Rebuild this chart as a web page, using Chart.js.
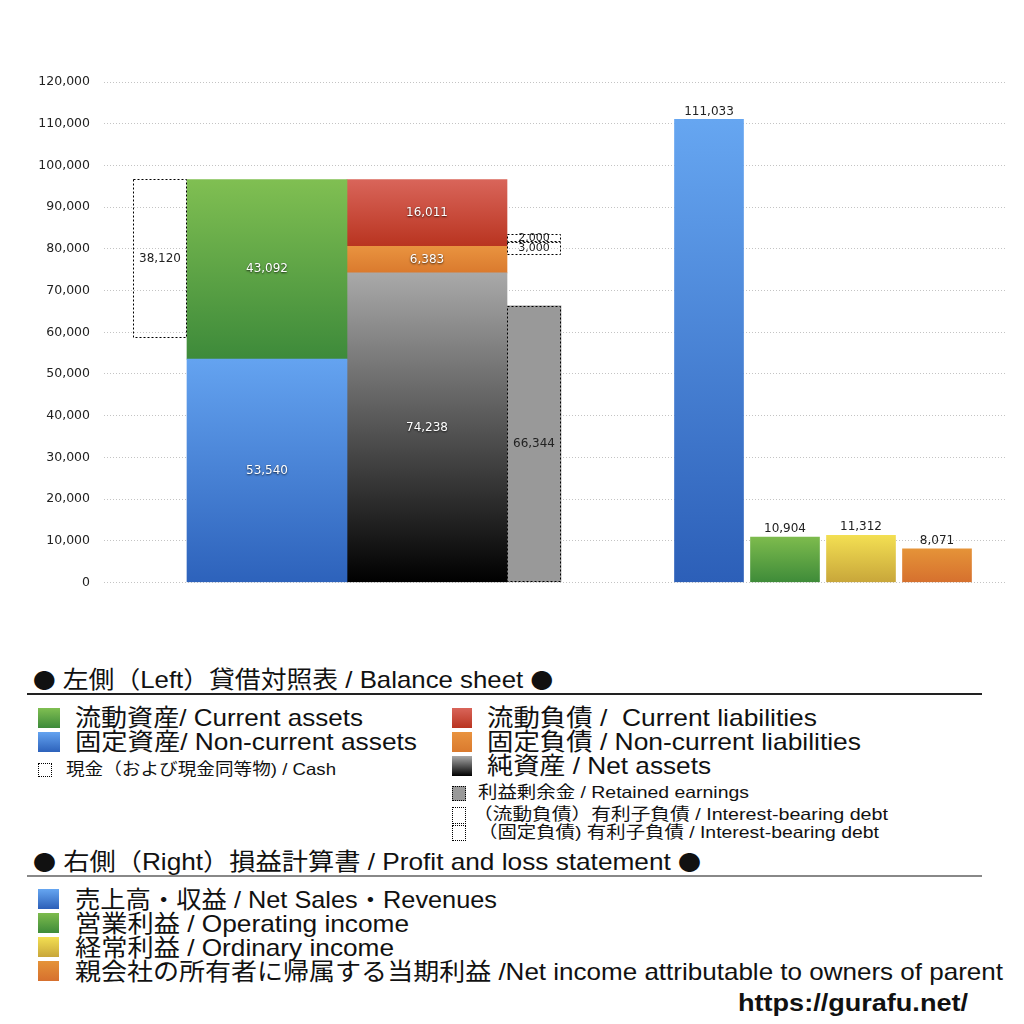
<!DOCTYPE html>
<html lang="ja">
<head>
<meta charset="utf-8">
<script src="https://cdn.jsdelivr.net/npm/chart.js@4.4.1/dist/chart.umd.min.js"></script>
<style>
  html, body { margin: 0; padding: 0; background: #fff; }
  body { width: 1024px; height: 1024px; position: relative; overflow: hidden;
         font-family: "Liberation Sans", "Noto Sans CJK JP", sans-serif; color: #111; }
  #wrap { position: absolute; left: 0; top: 0; width: 1024px; height: 604px; }
  .t { position: absolute; white-space: nowrap; line-height: 1; transform-origin: left center; }
  .big { font-size: 24px; }
  .small { font-size: 16.5px; }
  .bul { font-family: "Noto Sans CJK JP", sans-serif; font-size: 21px; }
  .sq { position: absolute; }
  .dot { position: absolute; box-sizing: border-box; border: 1px dotted #000; }
  .rule { position: absolute; left: 27px; width: 955px; }
</style>
</head>
<body>
<div id="wrap"><canvas id="chart"></canvas></div>

<!-- legend: balance sheet -->
<div class="t big" data-w="520" style="left:33px; top:668px;"><span class="bul">●</span> 左側（Left）貸借対照表 / Balance sheet <span class="bul">●</span></div>
<div class="rule" style="top:693px; height:2px; background:#222;"></div>

<div class="sq" style="left:38px; top:708px; width:22px; height:20px; background:linear-gradient(#80bf52,#3d8a3a);"></div>
<div class="t big" data-w="288" style="left:75px; top:706px;">流動資産/ Current assets</div>
<div class="sq" style="left:38px; top:732px; width:22px; height:20px; background:linear-gradient(#64a3f0,#2d62bb);"></div>
<div class="t big" data-w="342" style="left:75px; top:730px;">固定資産/ Non-current assets</div>
<div class="dot" style="left:38px; top:763px; width:14px; height:14px;"></div>
<div class="t small" data-w="270" style="left:66px; top:761px;">現金（および現金同等物) / Cash</div>

<div class="sq" style="left:452px; top:708px; width:20px; height:20px; background:linear-gradient(#d9655a,#b93420);"></div>
<div class="t big" data-w="330" style="left:487px; top:706px;">流動負債 /&nbsp; Current liabilities</div>
<div class="sq" style="left:452px; top:732px; width:20px; height:20px; background:linear-gradient(#e9933f,#da7a2e);"></div>
<div class="t big" data-w="374" style="left:487px; top:730px;">固定負債 / Non-current liabilities</div>
<div class="sq" style="left:452px; top:756px; width:20px; height:20px; background:linear-gradient(#a9a9a9,#000);"></div>
<div class="t big" data-w="224" style="left:487px; top:754px;">純資産 / Net assets</div>
<div class="dot" style="left:452px; top:786px; width:14px; height:15px; background:#999;"></div>
<div class="t small" data-w="271" style="left:478px; top:784px;">利益剰余金 / Retained earnings</div>
<div class="dot" style="left:452px; top:807px; width:14px; height:17px;"></div>
<div class="t small" data-w="415" style="left:473px; top:806px;">（流動負債）有利子負債 / Interest-bearing debt</div>
<div class="dot" style="left:452px; top:825px; width:14px; height:16px;"></div>
<div class="t small" data-w="401" style="left:478px; top:824px;">（固定負債) 有利子負債 / Interest-bearing debt</div>

<!-- legend: profit and loss -->
<div class="t big" data-w="668" style="left:33px; top:850px;"><span class="bul">●</span> 右側（Right）損益計算書 / Profit and loss statement <span class="bul">●</span></div>
<div class="rule" style="top:875px; height:2px; background:#888;"></div>

<div class="sq" style="left:38px; top:889px; width:21px; height:20px; background:linear-gradient(#66a6f1,#2c5fb8);"></div>
<div class="t big" data-w="422" style="left:75px; top:888px;">売上高・収益 / Net Sales・Revenues</div>
<div class="sq" style="left:38px; top:913px; width:21px; height:20px; background:linear-gradient(#7dbb4d,#3e8b39);"></div>
<div class="t big" data-w="334" style="left:75px; top:912px;">営業利益 / Operating income</div>
<div class="sq" style="left:38px; top:937px; width:21px; height:20px; background:linear-gradient(#f3df52,#c8a63a);"></div>
<div class="t big" data-w="319" style="left:75px; top:936px;">経常利益 / Ordinary income</div>
<div class="sq" style="left:38px; top:961px; width:21px; height:20px; background:linear-gradient(#e59338,#d6702e);"></div>
<div class="t big" data-w="928" style="left:75px; top:960px;">親会社の所有者に帰属する当期利益 /Net income attributable to owners of parent</div>

<div class="t" data-w="230" style="left:738px; top:991px; font-size:24px; font-weight:bold;">https://gurafu.net/</div>

<script>
// ---- values ----
const assetValues = [53540, 43092];          // 固定資産, 流動資産
const cashValue = 38120;                     // 現金
const equityValues = [74238, 6383, 16011];   // 純資産, 固定負債, 流動負債
const retainedEarnings = 66344;              // 利益剰余金
const debtValues = [3000, 2000];             // (固定負債) 有利子負債, (流動負債) 有利子負債
const plValues = [111033, 10904, 11312, 8071]; // 売上高, 営業利益, 経常利益, 当期利益
const yMax = 120000;
const yStep = 10000;

// ---- layout of the columns on the x axis (centre, width in px) ----
const xRange = 901;
const cols = {
  cash: [56, 54],
  assets: [163, 160],
  equity: [323, 160],
  retained: [430, 54],
  pl: [605, 681, 757, 833],
  plWidth: 69
};

const plTop = ['#66a6f1', '#7dbb4d', '#f3df52', '#e59338'];
const plBottom = ['#2c5fb8', '#3e8b39', '#c8a63a', '#d6702e'];

const totalAssets = assetValues[0] + assetValues[1];
const boundary = equityValues[0] + equityValues[1];
const debtBase = boundary - debtValues[1];

function grad(top, bottom) {
  return (c) => {
    const chart = c.chart;
    if (!chart.chartArea || !c.raw) return typeof bottom === 'function' ? '#888' : bottom;
    const t = typeof top === 'function' ? top(c) : top;
    const b = typeof bottom === 'function' ? bottom(c) : bottom;
    const r = Array.isArray(c.raw.y) ? c.raw.y : [0, c.raw.y];
    const y = chart.scales.y;
    const g = chart.ctx.createLinearGradient(0, y.getPixelForValue(r[1]), 0, y.getPixelForValue(r[0]));
    g.addColorStop(0, t);
    g.addColorStop(1, b);
    return g;
  };
}

function box(col, lo, hi) {
  return [{ x: col[0], y: [lo, hi] }];
}

const fmt = v => v.toLocaleString('en-US');

const datasets = [
  { label: '固定資産', data: box(cols.assets, 0, assetValues[0]), barThickness: cols.assets[1],
    backgroundColor: grad('#64a3f0', '#2d62bb'), labelColor: '#fff' },
  { label: '流動資産', data: box(cols.assets, assetValues[0], totalAssets), barThickness: cols.assets[1],
    backgroundColor: grad('#80bf52', '#3d8a3a'), labelColor: '#fff' },
  { label: '現金', data: box(cols.cash, totalAssets - cashValue, totalAssets), barThickness: cols.cash[1],
    backgroundColor: 'rgba(255,255,255,0)', dotted: true, labelColor: '#222' },
  { label: '純資産', data: box(cols.equity, 0, equityValues[0]), barThickness: cols.equity[1],
    backgroundColor: grad('#a9a9a9', '#000000'), labelColor: '#fff' },
  { label: '固定負債', data: box(cols.equity, equityValues[0], boundary), barThickness: cols.equity[1],
    backgroundColor: grad('#e9933f', '#da7a2e'), labelColor: '#fff' },
  { label: '流動負債', data: box(cols.equity, boundary, boundary + equityValues[2]), barThickness: cols.equity[1],
    backgroundColor: grad('#d9655a', '#b93420'), labelColor: '#fff' },
  { label: '利益剰余金', data: box(cols.retained, 0, retainedEarnings), barThickness: cols.retained[1],
    backgroundColor: '#999999', dotted: true, labelColor: '#222' },
  { label: '(固定負債) 有利子負債', data: box(cols.retained, debtBase, debtBase + debtValues[0]), barThickness: cols.retained[1],
    backgroundColor: 'rgba(255,255,255,0)', dotted: true, labelColor: '#222', labelSize: 11 },
  { label: '(流動負債) 有利子負債', data: box(cols.retained, debtBase + debtValues[0], debtBase + debtValues[0] + debtValues[1]), barThickness: cols.retained[1],
    backgroundColor: 'rgba(255,255,255,0)', dotted: true, labelColor: '#222', labelSize: 11 },
  { label: '損益計算書', data: plValues.map((v, i) => ({ x: cols.pl[i], y: v })), barThickness: cols.plWidth,
    backgroundColor: grad(c => plTop[c.dataIndex], c => plBottom[c.dataIndex]), labelColor: '#222', labelTop: true }
];

datasets.forEach(d => { d.grouped = false; d.borderWidth = 0; d.borderSkipped = false; });

const barDecor = {
  id: 'barDecor',
  afterDatasetsDraw(chart) {
    const ctx = chart.ctx;
    chart.data.datasets.forEach((ds, di) => {
      const meta = chart.getDatasetMeta(di);
      meta.data.forEach((el, i) => {
        const p = el.getProps(['x', 'y', 'base', 'width'], true);
        const top = Math.min(p.y, p.base), bot = Math.max(p.y, p.base);
        const left = p.x - p.width / 2;
        if (ds.dotted) {
          ctx.save();
          ctx.strokeStyle = '#000';
          ctx.lineWidth = 1;
          ctx.setLineDash([2, 2]);
          ctx.strokeRect(Math.round(left) + 0.5, Math.round(top) + 0.5, Math.round(p.width) - 1, Math.round(bot - top) - 1);
          ctx.restore();
        }
        const raw = ds.data[i].y;
        const val = Array.isArray(raw) ? raw[1] - raw[0] : raw;
        ctx.save();
        ctx.font = (ds.labelSize || 12) + 'px "DejaVu Sans", sans-serif';
        ctx.textAlign = 'center';
        ctx.textBaseline = 'middle';
        ctx.fillStyle = ds.labelColor;
        if (ds.labelColor === '#fff') {
          ctx.shadowColor = 'rgba(0,0,0,0.75)';
          ctx.shadowBlur = 2;
          ctx.shadowOffsetY = 1;
        }
        const ty = ds.labelTop ? top - 8 : (top + bot) / 2;
        ctx.fillText(fmt(val), p.x, ty);
        ctx.restore();
      });
    });
  }
};

new Chart(document.getElementById('chart').getContext('2d'), {
  type: 'bar',
  data: { datasets },
  options: {
    responsive: true,
    maintainAspectRatio: false,
    animation: false,
    layout: { padding: { top: 82, right: 19, bottom: 0, left: 0 } },
    plugins: { legend: { display: false }, tooltip: { enabled: false } },
    scales: {
      x: { type: 'linear', min: 0, max: xRange, display: false, offset: false },
      y: {
        min: 0, max: yMax,
        afterFit: s => { s.width = 104; },
        ticks: { stepSize: yStep, padding: 14, color: '#222',
                 font: { family: '"DejaVu Sans", sans-serif', size: 12.5 },
                 callback: v => fmt(v) },
        grid: { color: '#c4c4c4', lineWidth: 1, drawTicks: false },
        border: { display: false, dash: [1, 2] }
      }
    }
  },
  plugins: [barDecor]
});

// stretch legend lines to the widths they have in the original
function fitText() {
  document.querySelectorAll('[data-w]').forEach(el => {
    el.style.transform = 'none';
    const w = el.getBoundingClientRect().width;
    el.style.transform = 'scaleX(' + (el.dataset.w / w) + ')';
  });
}
fitText();
if (document.fonts) document.fonts.ready.then(fitText);
</script>
</body>
</html>
